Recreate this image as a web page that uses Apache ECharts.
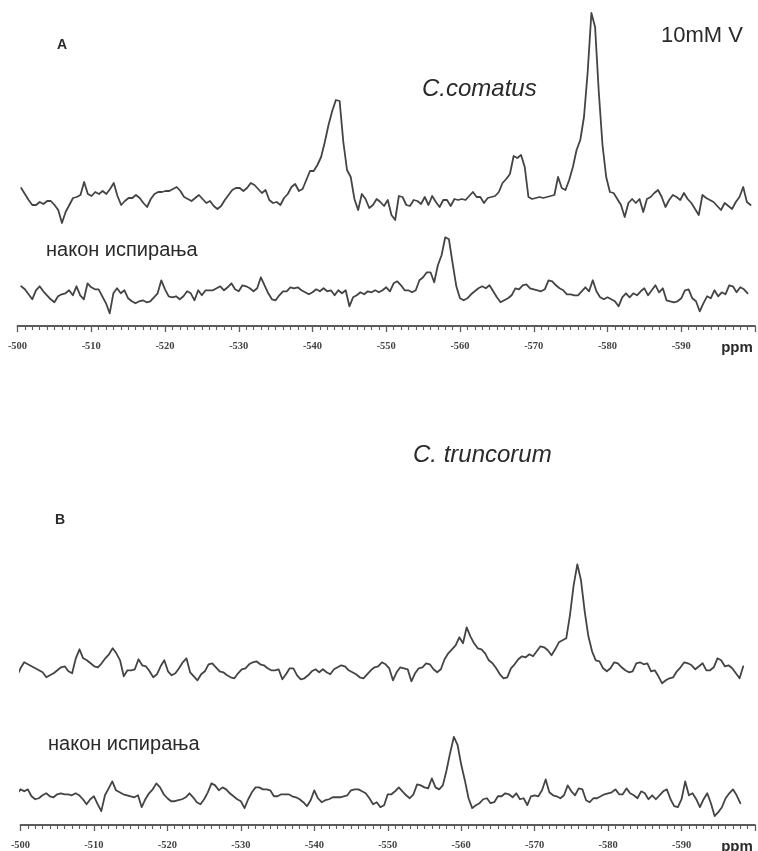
<!DOCTYPE html>
<html>
<head>
<meta charset="utf-8">
<script src="https://cdn.jsdelivr.net/npm/echarts@6/dist/echarts.min.js"></script>
<style>
  html, body { margin: 0; padding: 0; background: #ffffff; }
  #chart { width: 758px; height: 851px; }
</style>
</head>
<body>
<div id="chart"></div>
<script>
// 51V NMR spectra, chemical shift in ppm (digital resolution 0.5 ppm)
const PPM_STEP = 0.5;

// Chemical-shift labels shown under each spectrum
const shiftLabels = [-500, -510, -520, -530, -540, -550, -560, -570, -580, -590];

// Panel A – C. comatus, 10 mM V
const comatusStart = -500.5;
const comatus = [
  9, 3, -3, -8, -8, -5, -7, -4, -4, -8,
  -13, -26, -15, -8, -1, 0, 2, 15, 3, 1,
  5, 3, 6, 3, 8, 14, 1, -8, -4, -1,
  -1, 2, -1, -6, -10, -2, 3, 5, 5, 6,
  6, 8, 10, 6, 0, -2, -4, -1, 2, -2,
  -6, -4, -9, -12, -9, -3, 2, 7, 9, 9,
  6, 9, 14, 12, 8, 4, 7, -3, -6, -5,
  -8, -1, 3, 10, 13, 6, 8, 17, 26, 26,
  32, 40, 55, 72, 86, 97, 96, 55, 27, 20,
  -2, -13, 3, -2, -11, -8, -2, -5, -9, -3,
  -18, -23, 1, 0, -8, -9, -3, -4, -7, 0,
  -8, 1, -5, -10, -3, -3, -9, -2, -3, -2,
  -3, 1, 5, 0, 0, -6, -1, 0, 1, 5,
  14, 18, 23, 41, 39, 42, 30, 0, -2, -1,
  0, -1, 0, 1, 2, 20, 9, 7, 17, 30,
  47, 57, 80, 125, 184, 170, 105, 52, 20, 5,
  4, -2, -8, -20, -6, -2, -6, -2, -15, -2,
  0, 4, 7, 0, -10, -3, 2, 0, -3, 4,
  -2, -6, -12, -18, 2, -1, -3, -5, -9, -13,
  -6, -9, -12, -5, 0, 10, -5, -8
];

// Panel A – C. comatus after washing
const comatusWashedStart = -500.5;
const comatusWashed = [
  7, 4, -1, -6, 3, 7, 2, -2, -6, -9,
  -3, -1, 0, 3, -2, 7, -2, -6, 10, 6,
  4, 4, -3, -10, -20, 0, 5, 0, 3, -5,
  -8, -10, -8, -7, -9, -8, -4, 0, 13, 4,
  -3, -4, -3, -6, -3, 2, 0, -7, 3, -2,
  3, 3, 3, 5, 7, 3, 6, 10, 4, 2,
  8, 7, 5, 2, 5, 16, 8, 0, -6, -7,
  -2, 2, 2, 6, 5, 6, 3, 1, -1, 1,
  4, 2, 5, 2, 3, -2, 3, 0, 3, -13,
  -4, -2, 1, -1, 2, 1, 3, 1, 3, 6,
  2, 10, 12, 8, 3, 3, 1, 3, 13, 16,
  21, 21, 11, 28, 38, 56, 54, 30, 7, -5,
  -7, -5, -1, 2, 5, 7, 5, 8, 2, -4,
  -9, -7, -5, -2, 5, 4, 8, 9, 5, 4,
  3, 2, 4, 13, 12, 8, 5, 3, -1, -1,
  -2, -2, 2, 6, 2, 13, 2, -4, -6, -4,
  -6, -8, -13, -4, 0, -4, 0, -2, 2, 5,
  -2, 3, 8, 1, 5, -7, -8, -9, -8, -5,
  3, 4, -5, -8, -18, -10, -3, -5, 3, -3,
  1, -1, 8, 7, 1, 6, 4, 0
];

// Panel B – C. truncorum
const truncorumStart = -498;
const truncorum = [
  -2, -7, -4, -8, 0, 6, 4, 2, 0, -2,
  -4, -9, -7, -5, -2, 1, 2, -3, -5, 10,
  19, 10, 8, 5, 2, 1, 5, 10, 14, 20,
  15, 8, -8, -2, -2, -1, 9, 3, 2, -3,
  -9, -6, 2, 8, -3, -7, -5, 0, 6, 10,
  -4, -8, -12, -6, -3, 4, 5, 1, -3, -4,
  -7, -9, -10, -5, -1, 0, 4, 6, 7, 4,
  3, 0, -2, -2, -1, -11, -6, 0, 0, -7,
  -11, -10, -7, -3, -1, -4, -1, -4, -6, -1,
  1, 3, 2, -2, -4, -6, -9, -10, -6, -2,
  1, 2, 6, 4, 0, -12, -4, 1, 0, -1,
  -13, -5, 0, 1, 5, 4, -1, -4, -1, 9,
  15, 19, 23, 31, 25, 41, 32, 25, 20, 19,
  15, 8, 5, 0, -6, -10, -9, 0, 4, 9,
  12, 11, 14, 12, 17, 22, 21, 18, 13, 19,
  26, 28, 30, 53, 83, 104, 88, 57, 32, 17,
  8, 7, 0, -3, 0, 6, 5, 1, -2, -4,
  -3, 5, 6, 4, 5, -3, -2, -8, -15, -12,
  -10, -9, -3, 1, 6, 5, 3, -1, 2, 5,
  -2, -2, 1, 10, 8, 2, 3, 0, -5, -10, 2
];

// Panel B – C. truncorum after washing
const truncorumWashedStart = -499.5;
const truncorumWashed = [
  0, 5, 3, 5, -2, -5, -4, -1, 1, -2,
  -3, 0, 1, 0, 0, -1, 1, -1, -5, -10,
  -5, -2, -10, -17, -1, 6, 13, 4, 2, 0,
  -1, -2, -3, -1, -13, -5, 1, 5, 11, 7,
  0, -4, -7, -7, -6, -5, -3, 1, -3, -8,
  -10, -5, 2, 11, 9, 4, 7, 5, 1, -2,
  -5, -7, -14, -5, 2, 7, 7, 5, 5, 4,
  -2, -2, 0, 0, 0, -2, -3, -5, -8, -12,
  -6, 4, -4, -8, -6, -5, -3, -3, -3, -2,
  -1, 4, 5, 5, 3, 1, -4, -10, -8, -13,
  -11, 0, 0, 3, 7, 3, -1, -4, 0, 10,
  9, 7, 6, 16, 7, 5, 9, 24, 42, 58,
  50, 30, 14, -4, -14, -11, -9, -5, -4, -9,
  -8, -2, -2, 1, 0, -3, 1, -5, -4, -11,
  -2, -1, -2, 4, 15, 2, -1, -2, -4, -1,
  9, 3, -1, 6, 5, -6, -8, -4, -4, -2,
  0, 1, 2, 5, 0, 0, 6, 1, -1, -4,
  3, 1, -5, -1, -5, -1, 3, 5, -5, -12,
  -13, -5, 13, -1, 1, -5, -13, -5, 1, -9,
  -22, -18, -13, -4, 1, 5, -1, -9
];

// pair each intensity with its chemical shift on the 0.5 ppm acquisition grid
function spectrum(start, values) {
  return values.map((v, k) => [start - k * PPM_STEP, v]);
}

const TRACE = '#444444';
const AXIS = '#5c5c5c';
const SANS = 'Arial, "Liberation Sans", sans-serif';

function shiftAxis(gridIndex, visible) {
  return {
    type: 'value', gridIndex, inverse: true,
    min: -600, max: -500, interval: 10,
    show: visible,
    axisLine: { show: true, onZero: false, lineStyle: { color: AXIS, width: 1.8 } },
    axisTick: { show: true, length: 6, lineStyle: { color: AXIS, width: 1.3 } },
    minorTick: { show: true, splitNumber: 10, length: 4, lineStyle: { color: AXIS, width: 1.1 } },
    splitLine: { show: false },
    axisLabel: {
      margin: 15,
      fontFamily: '"Liberation Serif", "Times New Roman", serif',
      fontWeight: 'bold', fontSize: 10.5, color: '#444',
      formatter: v => shiftLabels.includes(v) ? String(v) : ''
    }
  };
}

function intensityAxis(gridIndex, min, max) {
  return { type: 'value', gridIndex, min, max, show: false, splitLine: { show: false } };
}

function trace(idx, data) {
  return {
    type: 'line', xAxisIndex: idx, yAxisIndex: idx, data,
    showSymbol: false, symbol: 'none', clip: false, silent: true,
    lineStyle: { color: TRACE, width: 1.8, join: 'round', cap: 'round' }, animation: false
  };
}

function label(text, x, y, font, align) {
  return {
    type: 'text', x, y, silent: true,
    style: { text, font, fill: '#2a2a2a', align: align || 'left', verticalAlign: 'middle' }
  };
}

const chart = echarts.init(document.getElementById('chart'), null, { renderer: 'canvas' });
chart.setOption({
  backgroundColor: '#ffffff',
  animation: false,
  grid: [
    { left: 17.5, width: 744.5, top: 0, height: 230 },
    { left: 17.5, width: 744.5, top: 230, height: 96 },
    { left: 20.5, width: 737.5, top: 540, height: 180 },
    { left: 20.5, width: 737.5, top: 720, height: 106 }
  ],
  xAxis: [shiftAxis(0, false), shiftAxis(1, true), shiftAxis(2, false), shiftAxis(3, true)],
  yAxis: [
    intensityAxis(0, -33, 197),
    intensityAxis(1, -32.7, 63.3),
    intensityAxis(2, -51.7, 128.3),
    intensityAxis(3, -31, 75)
  ],
  series: [
    trace(0, spectrum(comatusStart, comatus)),
    trace(1, spectrum(comatusWashedStart, comatusWashed)),
    trace(2, spectrum(truncorumStart, truncorum)),
    trace(3, spectrum(truncorumWashedStart, truncorumWashed))
  ],
  graphic: [
    label('A', 62, 45, 'bold 14px ' + SANS, 'center'),
    label('10mM V', 702, 36, '22px ' + SANS, 'center'),
    label('C.comatus', 422, 89, 'italic 24px ' + SANS),
    label('након испирања', 46, 250, '20px ' + SANS),
    label('ppm', 737, 348, 'bold 15px ' + SANS, 'center'),
    label('C. truncorum', 413, 455, 'italic 24px ' + SANS),
    label('B', 60, 520, 'bold 14px ' + SANS, 'center'),
    label('након испирања', 48, 744, '20px ' + SANS),
    label('ppm', 737, 847, 'bold 15px ' + SANS, 'center')
  ]
});
</script>
</body>
</html>
